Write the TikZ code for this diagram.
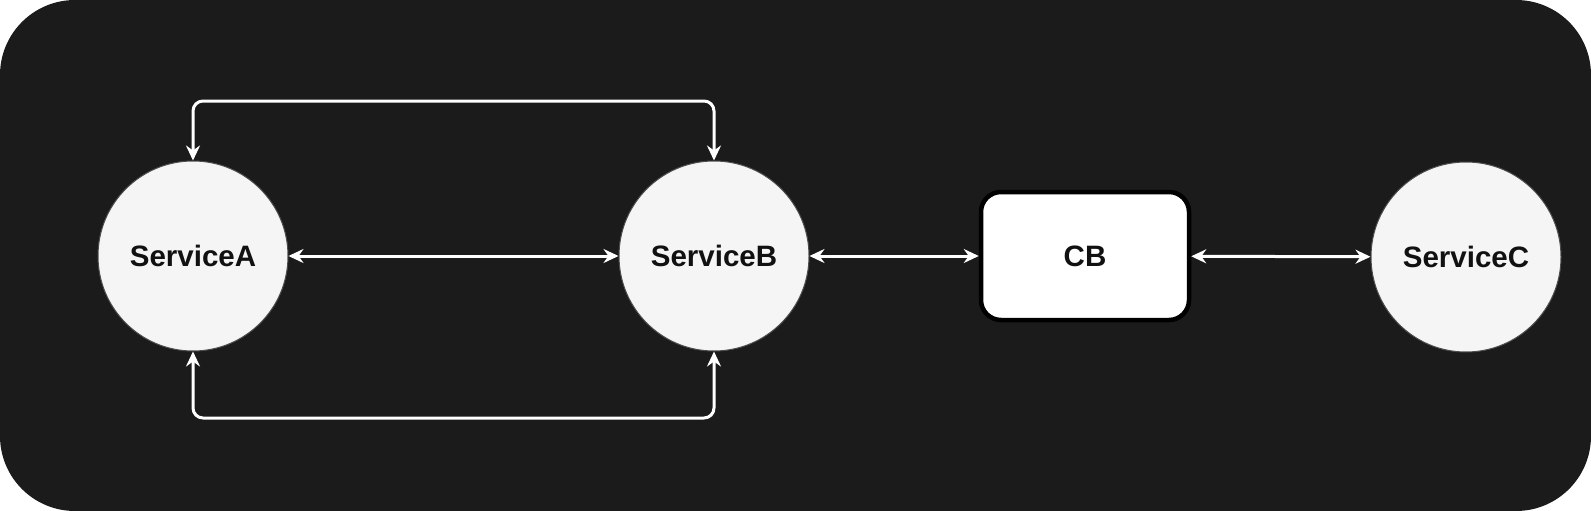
\documentclass[tikz,border=0pt]{standalone}
\usepackage{fontspec}
\setmainfont{Liberation Sans}
\usetikzlibrary{arrows.meta}
\definecolor{bgdark}{HTML}{1B1B1B}
\definecolor{svcfill}{HTML}{F5F5F5}
\definecolor{txtdark}{HTML}{111111}
\begin{document}
\begin{tikzpicture}[x=1pt,y=-1pt,>={Stealth[length=15pt,width=14pt,inset=5pt]},
  svc/.style={circle,fill=svcfill,draw=black!70,line width=1pt,inner sep=0pt,minimum size=190pt,
    text=txtdark,font=\fontsize{29.5}{34}\selectfont\bfseries},
  cbbox/.style={rounded corners=20pt,fill=white,draw=black,line width=4.5pt,minimum width=208pt,minimum height=128pt,
    text=txtdark,font=\fontsize{29.5}{34}\selectfont\bfseries},
  link/.style={<->,white,line width=3pt}]

\useasboundingbox (0,0) rectangle (1591,511);
\fill [bgdark,rounded corners=75pt] (0,0) rectangle (1591,511);

\node [svc] at (193,256) (sa) {ServiceA};
\node [svc] at (714,256) (sb) {ServiceB};
\node [cbbox] at (1085,256) (cb) {CB};
\node [svc] at (1466,257) (sc) {ServiceC};

\coordinate (top) at (450,101);
\coordinate (bot) at (450,418);

\draw [link] (sa) -- (sb);
\draw [link] (sb) -- (cb);
\draw [link] (cb) -- (sc);

\draw [link,rounded corners=10pt] (sa.north) |- (top) -| (sb.north);
\draw [link,rounded corners=10pt] (sa.south) |- (bot) -| (sb.south);

\end{tikzpicture}
\end{document}
